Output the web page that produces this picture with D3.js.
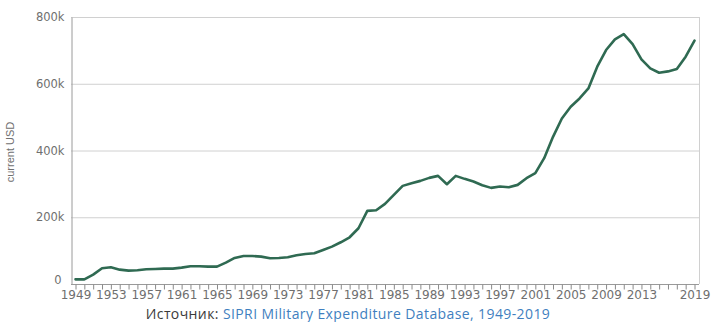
<!DOCTYPE html>
<html>
<head>
<meta charset="utf-8">
<script src="https://cdn.jsdelivr.net/npm/d3@7"></script>
<style>
  html, body { margin: 0; padding: 0; background: #fff; }
  svg { display: block; }
</style>
</head>
<body>
<svg id="chart" width="712" height="322"></svg>
<script>
// Annual military expenditure, current USD (thousands of millions shown as "k")
const years = d3.range(1949, 2020);
const spending = [
  14, 14, 28, 47, 50, 43, 40, 41, 44, 45,
  46, 46, 49, 53, 53, 52, 52, 64, 78, 84,
  84, 82, 77, 78, 80, 86, 90, 92, 102, 112,
  125, 140, 167, 219, 221, 240, 267, 294, 302, 309,
  318, 324, 299, 324, 315, 307, 296, 288, 292, 290,
  297, 317, 332, 377, 441, 496, 531, 556, 586, 651,
  701, 733, 749, 719, 673, 646, 633, 637, 644, 681,
  729
];
const yTicks = [0, 200, 400, 600, 800];
const xLabelYears = [1949, 1953, 1957, 1961, 1965, 1969, 1973, 1977, 1981, 1985,
                     1989, 1993, 1997, 2001, 2005, 2009, 2013, 2019];
const yTitle = "current USD";
const sourcePrefix = "Источник: ";
const sourceText = "SIPRI Military Expenditure Database, 1949-2019";

const svg = d3.select("#chart");
const plot = { left: 71, right: 699, top: 17, bottom: 284 };

const x = d3.scaleLinear().domain([1949, 2019]).range([75.5, 694.5]);
const y = d3.scaleLinear().domain([0, 800]).range([plot.bottom, plot.top]);

// horizontal gridlines
svg.append("g")
  .selectAll("line")
  .data(yTicks.filter(d => d > 0))
  .join("line")
  .attr("x1", plot.left).attr("x2", plot.right)
  .attr("y1", d => y(d) + 0.5).attr("y2", d => y(d) + 0.5)
  .attr("stroke", "#d0d0d0").attr("stroke-width", 1);

// right frame edge
svg.append("line")
  .attr("x1", plot.right + 0.5).attr("x2", plot.right + 0.5)
  .attr("y1", plot.top).attr("y2", plot.bottom)
  .attr("stroke", "#d0d0d0");

// y axis
const yAxis = d3.axisLeft(y)
  .tickValues(yTicks)
  .tickSize(0)
  .tickPadding(7)
  .tickFormat(d => d === 0 ? "0" : d + "k");
const gy = svg.append("g")
  .attr("transform", `translate(${plot.left + 0.5},0)`)
  .call(yAxis);
gy.select(".domain").attr("stroke", "#9a9a9a");
gy.selectAll("text")
  .attr("fill", "#6f6f6f")
  .style("font-family", "'DejaVu Sans', sans-serif")
  .style("font-size", "11.5px");
// the zero label sits a little higher and further left, clear of the first year label
gy.selectAll(".tick").filter(d => d === 0).select("text")
  .attr("x", -10).attr("dy", "-0.05em");

// x axis: a tick every year, labels every fourth year
const gx = svg.append("g")
  .attr("transform", `translate(0,${plot.bottom + 0.5})`)
  .call(d3.axisBottom(x)
    .tickValues(years)
    .tickSize(5)
    .tickPadding(1)
    .tickFormat(d => xLabelYears.includes(d) ? String(d) : ""));
gx.select(".domain").attr("stroke", "#9a9a9a").attr("d", `M${plot.left},0H${plot.right}`);
gx.selectAll(".tick line").attr("stroke", "#8a8a8a");
gx.selectAll("text")
  .attr("fill", "#6f6f6f")
  .style("font-family", "'DejaVu Sans', sans-serif")
  .style("font-size", "12px");

// expenditure line
const line = d3.line()
  .x((d, i) => x(years[i]))
  .y(d => y(d));
svg.append("path")
  .datum(spending)
  .attr("d", line)
  .attr("fill", "none")
  .attr("stroke", "#2f6a52")
  .attr("stroke-width", 2.6)
  .attr("stroke-linejoin", "round")
  .attr("stroke-linecap", "round");

// y axis title
svg.append("text")
  .attr("transform", "translate(14,152) rotate(-90)")
  .attr("text-anchor", "middle")
  .attr("fill", "#707070")
  .style("font-family", "'Liberation Sans Narrow', 'Liberation Sans', sans-serif")
  .style("font-size", "11px")
  .text(yTitle);

// source note
const src = svg.append("text")
  .attr("x", 348).attr("y", 319)
  .attr("text-anchor", "middle")
  .style("font-family", "'Open Sans', sans-serif")
  .style("font-size", "14px")
  .style("letter-spacing", "0.4px");
src.append("tspan").attr("fill", "#3a3a3a").text(sourcePrefix);
src.append("tspan").attr("fill", "#3f7fc0").text(sourceText);
</script>
</body>
</html>
